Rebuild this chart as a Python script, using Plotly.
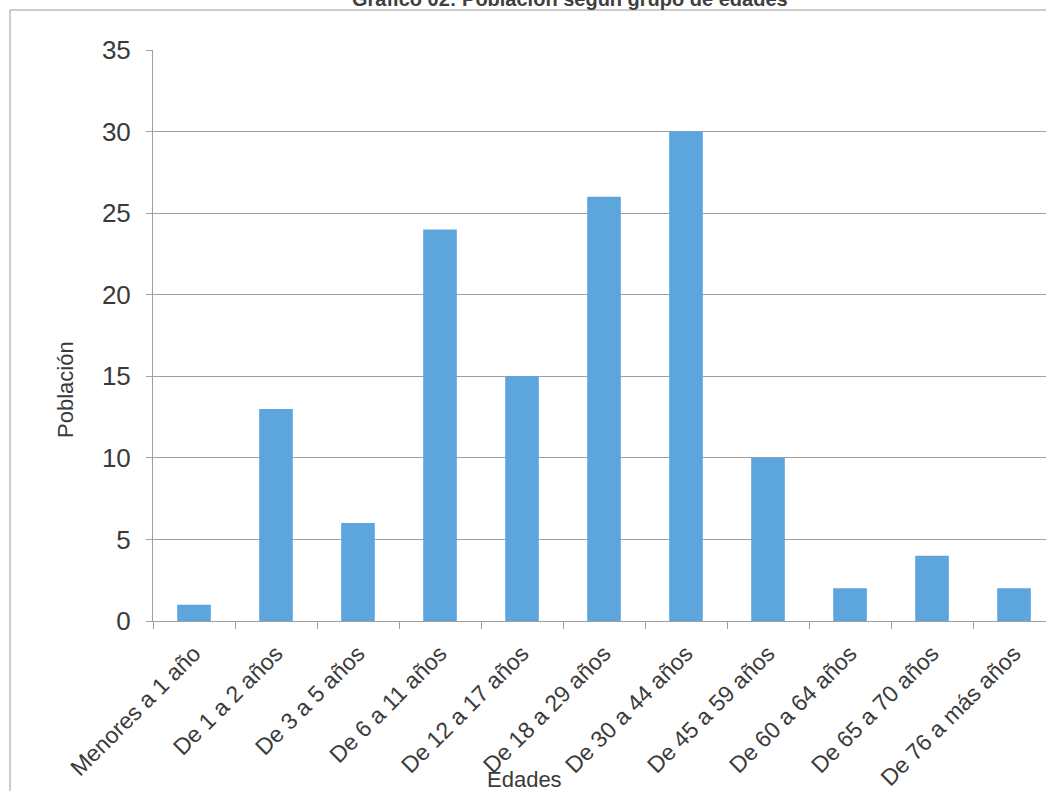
import plotly.graph_objects as go

categorias = ["Menores a 1 año", "De 1 a 2 años", "De 3 a 5 años", "De 6 a 11 años",
              "De 12 a 17 años", "De 18 a 29 años", "De 30 a 44 años", "De 45 a 59 años",
              "De 60 a 64 años", "De 65 a 70 años", "De 76 a más años"]
poblacion = [1, 13, 6, 24, 15, 26, 30, 10, 2, 4, 2]
y_ticks = [0, 5, 10, 15, 20, 25, 30, 35]

titulo = "Gráfico 02: Población según grupo de edades"

W, H = 1046, 791
L, R, T, B = 153, 0, 50, 170
pw, ph = W - L - R, H - T - B

def px_x(x):
    return (x - L) / pw

def px_y(y):
    return (H - B - y) / ph

fig = go.Figure()
fig.add_trace(go.Bar(
    x=categorias, y=poblacion,
    marker=dict(color="#5DA6DD", line=dict(width=0)),
    width=0.41,
))

txt = "#3a3a3a"
grid = "#a0a0a0"

fig.update_layout(
    width=W, height=H,
    margin=dict(l=L, r=R, t=T, b=B, pad=0),
    paper_bgcolor="white", plot_bgcolor="white",
    showlegend=False,
    font=dict(family="Liberation Sans, Arial, sans-serif", color=txt),
    xaxis=dict(
        range=[-0.5, 10.39],
        tickangle=-45,
        tickfont=dict(size=23, color=txt),
        ticks="outside", ticklen=7, tickcolor=grid, tickson="boundaries",
        ticklabelstandoff=9,
        showline=True, linecolor=grid, linewidth=1,
        showgrid=False, zeroline=False,
    ),
    yaxis=dict(
        range=[0, 35],
        tickvals=y_ticks,
        tickfont=dict(size=26, color=txt),
        ticks="outside", ticklen=6, tickcolor=grid,
        ticklabelstandoff=10,
        showline=True, linecolor=grid, linewidth=1,
        showgrid=True, gridcolor=grid, gridwidth=1,
        zeroline=False,
    ),
    annotations=[
        dict(text=f"<b>{titulo}</b>", xref="paper", yref="paper",
             x=px_x(570), y=px_y(-1), xanchor="center", yanchor="middle",
             showarrow=False, font=dict(size=20, color="#404040")),
        dict(text="Edades", xref="paper", yref="paper",
             x=px_x(524), y=px_y(779), xanchor="center", yanchor="middle",
             showarrow=False, font=dict(size=22, color=txt)),
        dict(text="Población", xref="paper", yref="paper",
             x=px_x(65), y=px_y(390), xanchor="center", yanchor="middle",
             textangle=-90, showarrow=False, font=dict(size=22, color=txt)),
    ],
    shapes=[
        dict(type="line", xref="paper", yref="paper",
             x0=px_x(10), x1=px_x(1060), y0=px_y(10), y1=px_y(10),
             line=dict(color="#9a9a9a", width=1)),
        dict(type="line", xref="paper", yref="paper",
             x0=px_x(10), x1=px_x(10), y0=px_y(10), y1=px_y(800),
             line=dict(color="#9a9a9a", width=1)),
    ],
)

fig.write_html("out.html")
